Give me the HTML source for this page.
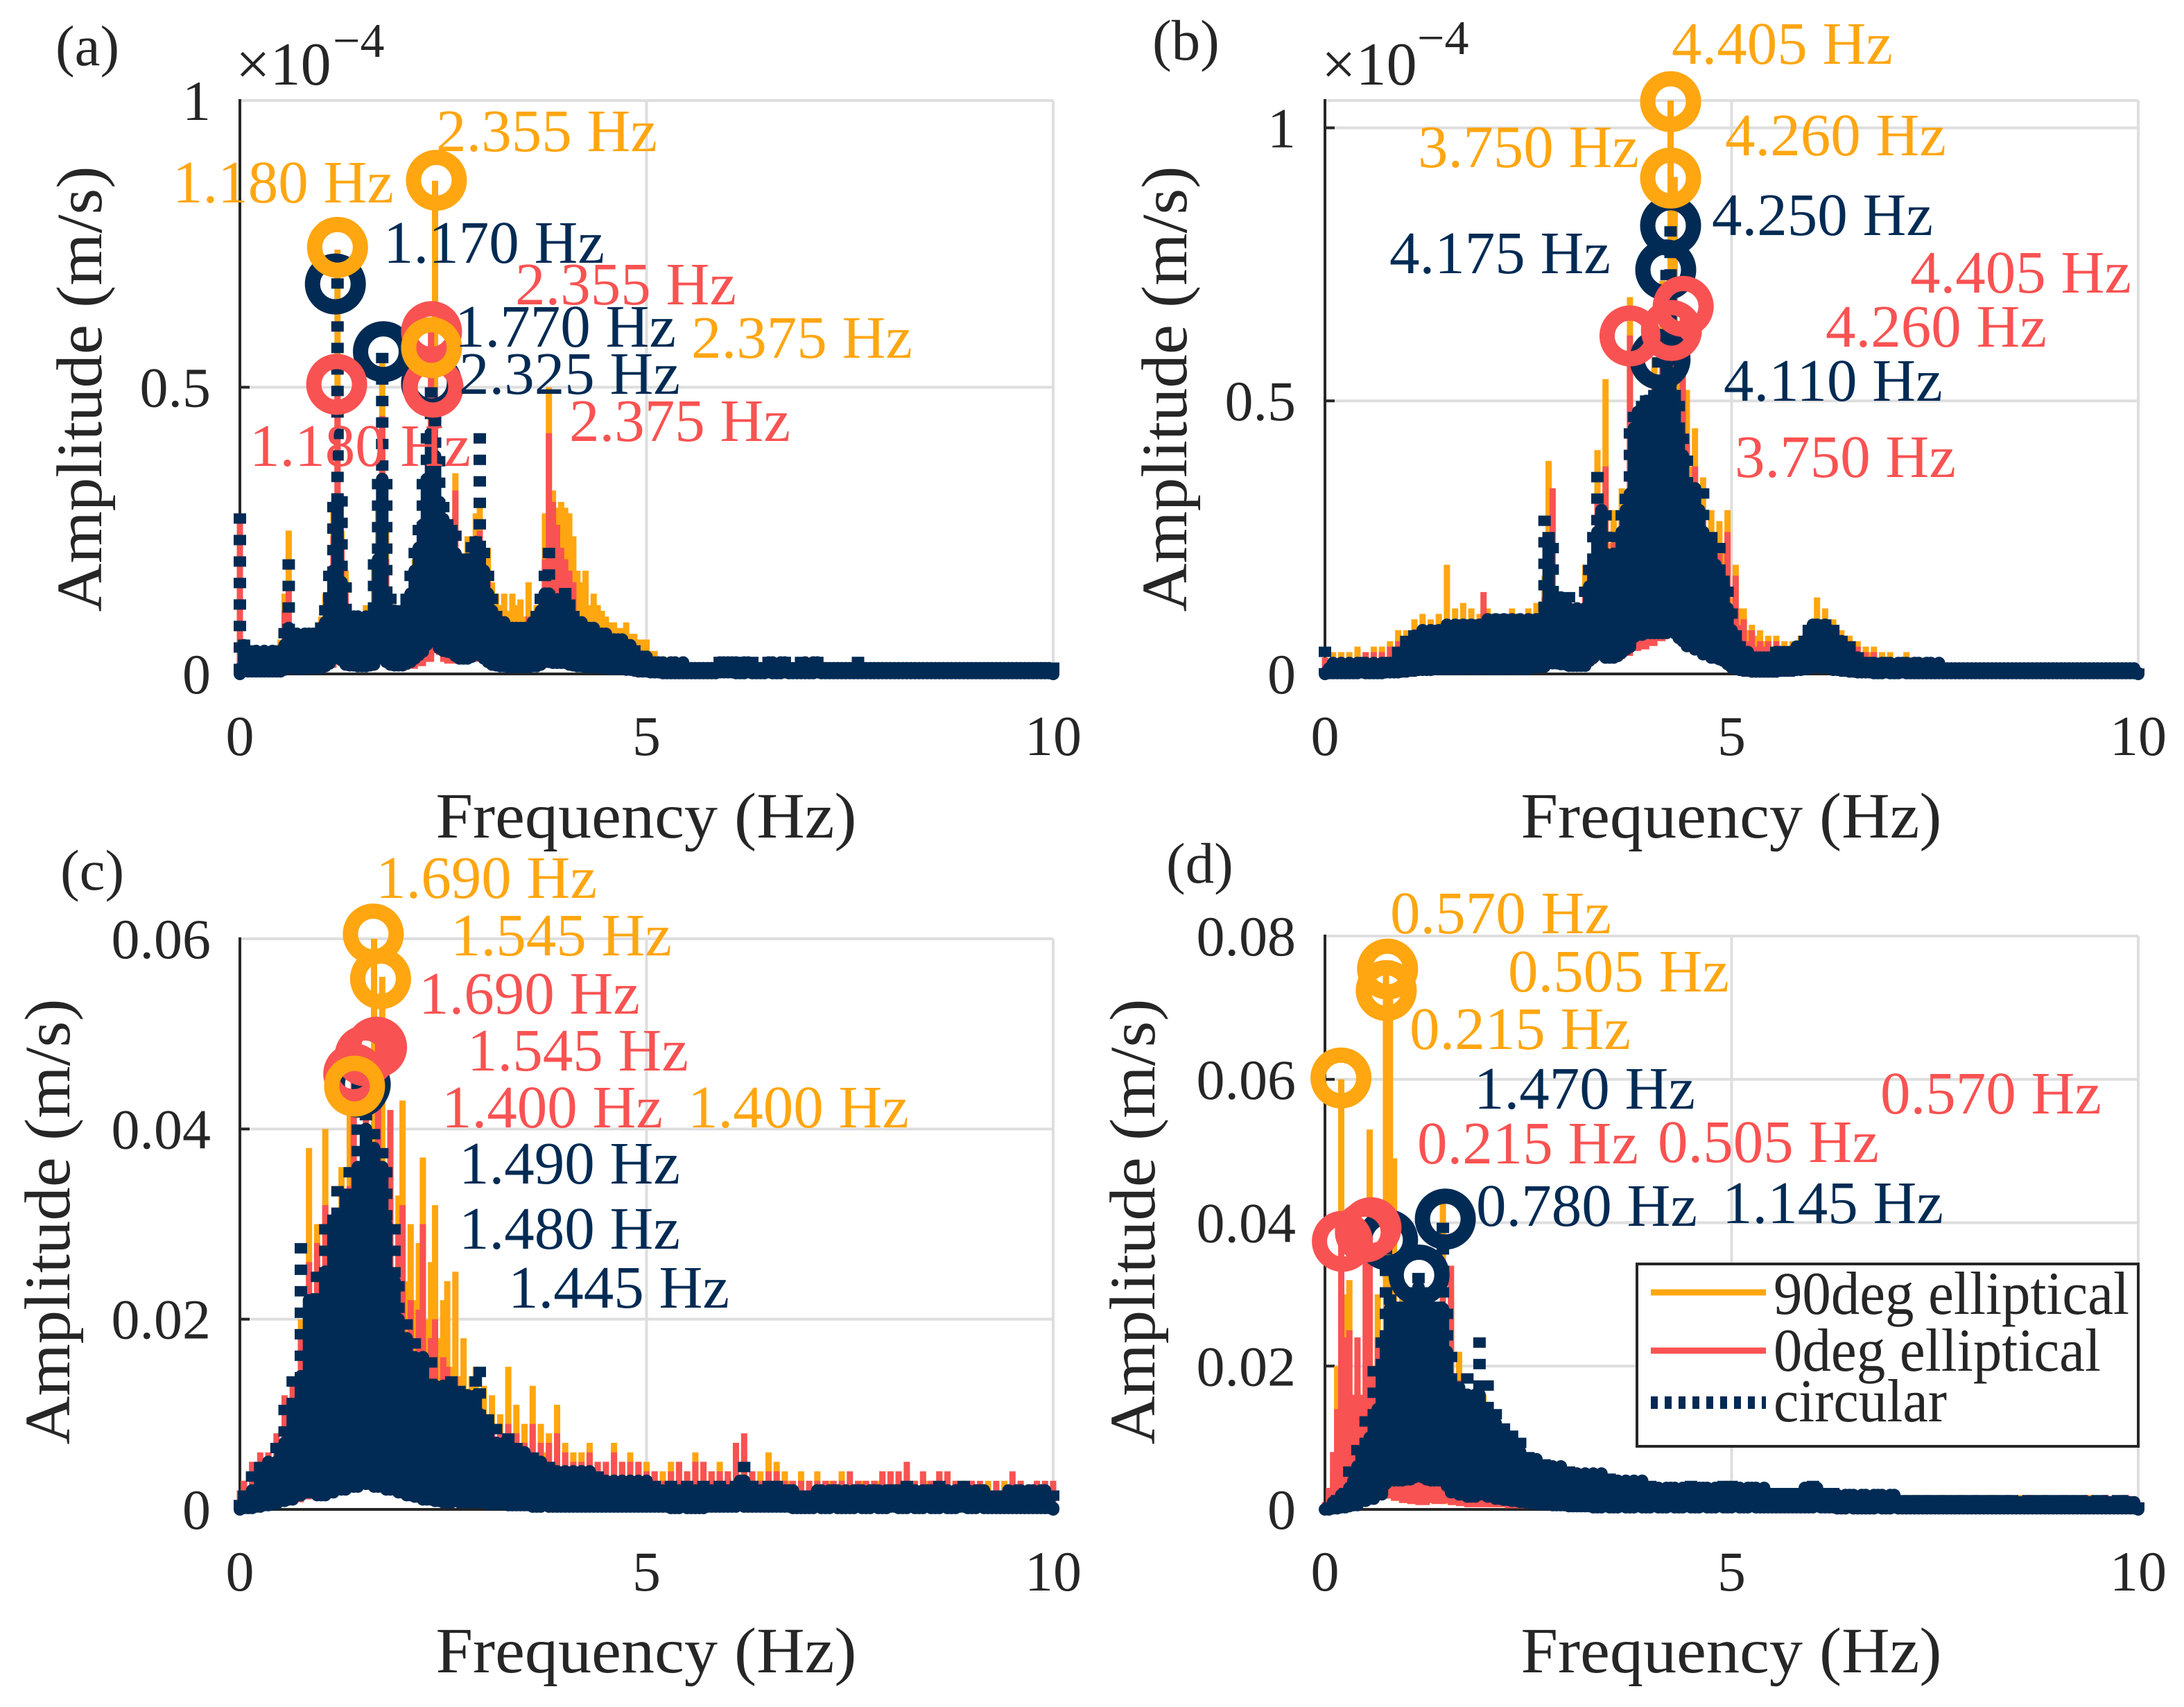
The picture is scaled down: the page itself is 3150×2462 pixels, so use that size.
<!DOCTYPE html>
<html lang="en">
<head>
<meta charset="utf-8">
<title>Frequency amplitude spectra</title>
<style>
html,body{margin:0;padding:0;background:#fff;width:3150px;height:2462px;overflow:hidden}
svg{display:block}
text{font-family:"Liberation Serif",serif}
.o{fill:#FFA611;font-size:87px}
.r{fill:#F95252;font-size:87px}
.n{fill:#012B54;font-size:87px}
.k{fill:#262626}
</style>
</head>
<body>
<svg id="chart" xmlns="http://www.w3.org/2000/svg" width="3150" height="2462" viewBox="0 0 3150 2462">
  <rect x="0" y="0" width="3150" height="2462" fill="#fff"/>
  <g id="marks"></g>

  <g>
    <text class="k" x="80" y="94" font-size="83">(a)</text>
    <text class="k" x="340" y="122" font-size="88">×10</text>
    <text class="k" x="480" y="82" font-size="70">−4</text>
    <text class="k" x="932" y="1208" font-size="93" text-anchor="middle" textLength="607" lengthAdjust="spacingAndGlyphs">Frequency (Hz)</text>
    <text class="k" transform="rotate(-90 146 561)" x="146" y="561" font-size="93" text-anchor="middle" textLength="643" lengthAdjust="spacingAndGlyphs">Amplitude (m/s)</text>
    <text class="o" x="629" y="218">2.355 Hz</text>
    <text class="o" x="249" y="292">1.180 Hz</text>
    <text class="n" x="553" y="379">1.170 Hz</text>
    <text class="r" x="743" y="439">2.355 Hz</text>
    <text class="n" x="656" y="500">1.770 Hz</text>
    <text class="o" x="997" y="516">2.375 Hz</text>
    <text class="n" x="662" y="568">2.325 Hz</text>
    <text class="r" x="821" y="636">2.375 Hz</text>
    <text class="r" x="360" y="672">1.180 Hz</text>
  </g>

  <g>
    <text class="k" x="1662" y="86" font-size="83">(b)</text>
    <text class="k" x="1906" y="122" font-size="88">×10</text>
    <text class="k" x="2044" y="78" font-size="70">−4</text>
    <text class="k" x="2497" y="1208" font-size="93" text-anchor="middle" textLength="607" lengthAdjust="spacingAndGlyphs">Frequency (Hz)</text>
    <text class="k" transform="rotate(-90 1711 561)" x="1711" y="561" font-size="93" text-anchor="middle" textLength="643" lengthAdjust="spacingAndGlyphs">Amplitude (m/s)</text>
    <text class="o" x="2411" y="92">4.405 Hz</text>
    <text class="o" x="2488" y="224">4.260 Hz</text>
    <text class="o" x="2045" y="241">3.750 Hz</text>
    <text class="n" x="2469" y="339">4.250 Hz</text>
    <text class="n" x="2004" y="394">4.175 Hz</text>
    <text class="r" x="2755" y="422">4.405 Hz</text>
    <text class="r" x="2633" y="500">4.260 Hz</text>
    <text class="n" x="2486" y="578">4.110 Hz</text>
    <text class="r" x="2502" y="688">3.750 Hz</text>
  </g>

  <g>
    <text class="k" x="87" y="1283" font-size="83">(c)</text>
    <text class="k" x="932" y="2412" font-size="93" text-anchor="middle" textLength="607" lengthAdjust="spacingAndGlyphs">Frequency (Hz)</text>
    <text class="k" transform="rotate(-90 100 1762)" x="100" y="1762" font-size="93" text-anchor="middle" textLength="643" lengthAdjust="spacingAndGlyphs">Amplitude (m/s)</text>
    <text class="o" x="542" y="1295">1.690 Hz</text>
    <text class="o" x="650" y="1378">1.545 Hz</text>
    <text class="r" x="604" y="1462">1.690 Hz</text>
    <text class="r" x="674" y="1544">1.545 Hz</text>
    <text class="r" x="637" y="1626">1.400 Hz</text>
    <text class="o" x="992" y="1626">1.400 Hz</text>
    <text class="n" x="662" y="1707">1.490 Hz</text>
    <text class="n" x="662" y="1801">1.480 Hz</text>
    <text class="n" x="733" y="1886">1.445 Hz</text>
  </g>

  <g>
    <text class="k" x="1682" y="1273" font-size="83">(d)</text>
    <text class="k" x="2497" y="2412" font-size="93" text-anchor="middle" textLength="607" lengthAdjust="spacingAndGlyphs">Frequency (Hz)</text>
    <text class="k" transform="rotate(-90 1665 1762)" x="1665" y="1762" font-size="93" text-anchor="middle" textLength="643" lengthAdjust="spacingAndGlyphs">Amplitude (m/s)</text>
    <text class="o" x="2005" y="1346">0.570 Hz</text>
    <text class="o" x="2175" y="1430">0.505 Hz</text>
    <text class="o" x="2033" y="1513">0.215 Hz</text>
    <text class="n" x="2126" y="1599">1.470 Hz</text>
    <text class="r" x="2712" y="1606">0.570 Hz</text>
    <text class="r" x="2044" y="1678">0.215 Hz</text>
    <text class="r" x="2391" y="1676">0.505 Hz</text>
    <text class="n" x="2129" y="1768">0.780 Hz</text>
    <text class="n" x="2484" y="1764">1.145 Hz</text>
  </g>

  <g>
    <rect x="2361" y="1823" width="723" height="263" fill="#fff" stroke="#262626" stroke-width="4"/>
    <line x1="2381" y1="1864" x2="2547" y2="1864" stroke="#FFA611" stroke-width="9"/>
    <text class="k" x="2558" y="1895" font-size="88" textLength="513" lengthAdjust="spacingAndGlyphs">90deg elliptical</text>
    <line x1="2381" y1="1948" x2="2547" y2="1948" stroke="#F95252" stroke-width="9"/>
    <text class="k" x="2558" y="1977" font-size="88" textLength="472" lengthAdjust="spacingAndGlyphs">0deg elliptical</text>
    <line x1="2381" y1="2023" x2="2547" y2="2023" stroke="#012B54" stroke-width="18" stroke-dasharray="10 10"/>
    <text class="k" x="2558" y="2050" font-size="88" textLength="250" lengthAdjust="spacingAndGlyphs">circular</text>
  </g>
</svg>

<script>
// Frequency step of all spectra (Hz per sample)
const freqStep = 0.05;

// Tick values and labels
const xTickValues = [0, 5, 10];
const xTickLabels = ['0', '5', '10'];
const yTicksA = [0, 50, 100];
const yLabelsA = ['0', '0.5', '1'];
const yTicksB = [0, 50, 100];
const yLabelsB = ['0', '0.5', '1'];
const yTicksC = [0, 20, 40, 60];
const yLabelsC = ['0', '0.02', '0.04', '0.06'];
const yTicksD = [0, 20, 40, 60, 80];
const yLabelsD = ['0', '0.02', '0.04', '0.06', '0.08'];

// Panel (a) spectra, units 1e-6 m/s
const aOrange = [
5,2,3,1,3,1,3,2,4,2,6,14,25,8,5,3,4,2,4,2,
10,14,8,30,74,25,18,8,6,10,5,12,6,20,30,55,25,14,8,10,
6,14,8,20,12,26,20,57,86,30,24,18,22,35,20,16,24,18,28,30,
20,22,16,14,12,14,11,14,12,13,10,16,11,12,14,28,50,32,29,30,
29,28,24,18,16,18,12,14,12,11,10,9,9,8,8,9,7,7,6,6,
6,4,4,3,3,2,3,1,2,1,2,1,2,1,2,1,2,1,2,1,
2,1,2,1,2,1,2,1,2,1,1,2,1,1,2,1,2,1,1,2,
1,2,1,2,1,1,2,1,2,1,2,1,1,2,1,2,1,1,2,1,
1,2,1,1,2,1,1,2,1,1,2,1,1,1,2,1,1,2,1,1,
1,2,1,1,1,2,1,1,1,2,1,1,1,1,2,1,1,1,1,2,1];
const aRed = [
28,4,3,2,3,1,3,1,3,2,4,11,16,7,4,2,4,2,3,1,
8,10,7,24,50,22,14,6,5,8,4,9,5,12,22,45,20,10,6,9,
5,11,6,16,9,22,14,60,50,24,22,14,12,32,15,12,20,14,22,25,
14,16,8,10,5,9,4,8,4,7,4,10,5,7,9,20,42,30,26,22,
20,18,16,10,10,8,9,6,8,5,6,4,6,3,5,3,4,3,4,3,
4,2,3,1,3,1,2,1,2,1,2,1,1,1,2,1,1,1,2,1,
2,1,1,1,2,1,1,1,2,1,1,2,1,1,2,1,1,1,1,2,
1,1,1,2,1,1,2,1,1,1,2,1,1,1,1,2,1,1,1,1,
1,2,1,1,1,1,2,1,1,1,1,1,2,1,1,1,1,2,1,1,
1,1,2,1,1,1,1,2,1,1,1,1,1,2,1,1,1,1,1,2,1];
const aNavy = [
28,6,5,3,4,3,4,3,4,3,5,8,20,8,7,6,7,7,8,7,
9,12,18,30,69,31,16,11,10,10,9,10,11,20,34,56,34,14,11,10,
12,14,18,22,26,34,42,50,45,38,30,27,26,25,21,18,20,23,24,42,
22,18,14,11,10,9,9,8,8,8,8,9,9,11,14,18,22,14,13,13,
15,13,11,10,9,9,8,8,8,7,7,7,6,6,6,6,5,5,4,3,
3,3,2,2,2,1,2,2,1,2,2,1,1,2,2,1,1,2,3,2,
2,2,3,1,2,2,3,1,1,2,3,2,1,2,3,2,1,1,3,2,
1,2,3,2,1,1,2,2,1,1,1,2,3,1,1,1,2,2,1,1,
1,2,2,1,1,1,2,2,1,1,1,2,2,1,1,1,1,2,2,1,
1,1,1,2,2,1,1,1,2,2,1,1,1,1,2,2,1,1,1,2,2];

// Panel (b) spectra, units 1e-6 m/s
const bOrange = [
3,1,4,2,4,2,4,2,5,2,4,3,5,2,5,3,6,4,8,4,
8,5,10,6,11,6,10,6,11,7,20,8,12,7,13,7,12,6,11,6,
12,6,11,6,10,6,12,7,11,7,12,8,13,9,18,39,14,8,13,9,
14,11,13,11,20,14,22,41,18,54,24,30,22,34,26,69,34,40,34,48,
40,58,44,72,60,105,91,58,48,52,38,45,30,36,26,30,24,28,24,30,
14,20,12,12,8,9,7,8,6,7,5,7,5,6,5,6,6,7,6,7,
9,14,9,12,8,10,7,8,5,7,4,6,4,5,4,5,3,4,3,4,
2,3,2,4,2,3,2,3,2,3,2,3,1,2,1,2,1,2,1,2,
2,1,2,1,2,1,2,1,2,1,2,1,2,1,2,1,2,1,2,1,
2,1,2,1,2,1,2,1,2,1,2,1,1,2,1,2,1,1,2,1,1];
const bRed = [
3,1,3,1,3,2,3,2,3,2,4,2,4,2,4,2,5,3,6,3,
6,4,8,4,9,5,8,5,9,5,10,6,9,6,10,6,10,5,9,15,
9,5,10,5,9,5,10,6,10,6,10,7,11,8,14,20,34,7,11,7,
11,8,11,9,15,12,18,32,16,38,20,24,18,28,22,62,28,34,30,40,
34,48,40,58,48,63,46,50,67,44,34,38,26,30,20,25,18,22,18,26,
12,18,9,10,6,8,5,6,5,6,4,6,4,5,4,5,5,6,5,6,
7,10,6,9,5,8,4,7,3,6,3,5,2,4,2,4,2,3,2,3,
2,3,1,3,2,3,1,2,2,3,1,2,1,2,1,2,1,2,1,2,
2,1,2,1,2,1,1,2,1,2,1,1,2,1,2,1,1,2,1,1,
2,1,1,2,1,1,2,1,1,2,1,1,2,1,1,1,2,1,1,1,1];
const bNavy = [
5,1,2,1,2,1,2,1,2,2,2,1,2,1,2,2,3,2,5,3,
7,4,8,5,8,5,8,6,9,6,9,6,9,6,10,7,9,6,10,7,
10,6,11,6,10,7,11,6,10,6,10,8,11,9,29,26,24,13,14,12,
15,10,12,10,16,20,26,37,30,30,20,22,26,30,33,45,48,48,50,51,
50,52,58,50,74,82,52,50,44,40,34,34,30,34,24,26,20,24,18,16,
12,8,6,5,4,4,3,3,3,4,3,5,4,4,4,5,5,6,7,9,
9,10,8,10,8,9,5,7,4,6,3,4,2,3,2,2,1,3,3,2,
1,2,2,3,1,2,2,1,2,2,1,2,2,1,1,2,2,1,1,2,
2,1,1,2,2,1,1,2,2,1,1,1,2,2,1,1,2,2,1,1,
2,2,1,1,2,2,1,1,2,2,1,1,1,2,2,1,1,2,2,1,1];

// Panel (c) spectra, units 1e-3 m/s
const cOrange = [
1,3,2,4,2,5,1,5,2,6,3,10,5,14,6,20,8,38,12,30,
14,40,16,28,18,36,16,44,18,30,20,36,22,60,24,56,22,34,20,33,
43,24,30,22,28,37,20,26,32,18,22,24,15,25,14,18,10,14,15,10,
13,8,12,7,10,8,15,7,11,7,9,6,13,5,9,6,8,5,11,4,
7,4,6,4,6,3,7,3,5,3,5,3,7,3,5,3,6,3,5,3,
5,3,4,3,4,3,5,2,5,3,4,3,6,2,5,3,4,3,5,3,
4,3,5,3,6,2,4,3,4,3,6,3,5,3,4,3,3,2,4,2,
3,2,4,2,3,3,3,2,4,2,3,2,3,3,3,2,3,3,4,2,
4,2,3,3,4,2,3,2,3,3,3,2,4,2,3,2,3,2,3,2,
3,2,2,2,3,2,2,2,3,2,2,2,3,2,2,2,3,2,2,2,2];
const cRed = [
2,3,1,5,2,6,1,6,2,8,3,12,4,14,5,18,7,26,10,28,
12,32,14,24,18,30,16,34,46,22,18,48,20,30,49,34,20,42,18,30,
32,16,22,14,21,30,12,18,20,10,16,15,8,14,8,12,7,11,9,6,
9,5,9,5,8,5,9,4,8,4,7,4,9,3,7,4,7,3,8,3,
6,3,5,3,5,3,6,3,5,3,5,3,6,2,5,3,5,2,5,2,
4,2,4,3,3,2,4,2,5,3,4,3,5,2,5,3,4,3,4,3,
4,3,7,3,8,2,4,3,3,2,4,3,4,2,3,2,3,2,3,2,
3,2,3,2,3,2,3,2,3,2,4,2,3,2,3,2,3,2,4,2,
4,2,4,2,5,2,3,2,4,2,3,2,4,2,4,2,3,2,3,2,
3,2,3,2,2,1,3,2,2,1,4,2,3,1,2,2,3,2,3,2,3];
const cNavy = [
1,2,1,4,2,5,3,5,4,7,6,11,7,14,10,28,12,22,14,25,
10,30,12,31,34,14,33,36,16,45,20,42,18,40,16,38,36,14,30,24,
12,20,10,18,9,16,7,16,13,6,13,5,14,6,13,5,12,5,14,15,
5,10,4,9,4,7,8,3,7,3,6,3,6,2,5,3,5,2,4,2,
4,2,4,2,4,2,4,2,4,2,3,2,3,2,3,2,3,2,3,2,
3,2,3,2,2,2,3,1,2,2,3,1,2,1,3,2,2,2,3,2,
2,2,3,3,5,2,3,2,2,2,3,2,3,2,2,2,2,1,2,1,
1,2,2,2,1,2,2,2,1,2,1,2,2,2,1,2,2,2,1,2,
2,2,2,1,3,2,2,1,2,2,2,1,3,2,2,1,2,2,3,2,
1,2,2,2,1,2,1,1,2,2,1,2,2,1,2,2,1,2,2,1,2];

// Panel (d) spectra, units 1e-3 m/s
const dOrange = [
0,2,5,20,60,30,32,8,18,6,20,53,10,30,12,75,72,49,8,30,
6,24,5,26,5,22,6,28,6,43,5,30,4,22,4,14,3,12,3,16,
3,12,2,11,3,8,2,7,2,6,2,5,2,5,2,5,1,5,1,5,
1,4,1,4,1,4,1,3,1,3,1,4,1,3,1,3,1,3,1,3,
1,3,1,3,1,3,1,3,1,3,1,3,1,3,1,3,1,3,1,4,
1,3,1,3,1,2,1,2,1,2,1,3,1,2,1,2,1,2,1,2,
1,2,1,2,1,2,1,2,1,2,0,2,1,2,1,2,1,2,1,2,
1,2,1,2,1,1,2,1,1,2,1,2,1,1,2,1,1,2,1,1,
2,1,1,2,1,2,1,1,2,1,1,2,1,1,2,1,1,2,1,1,
1,2,1,1,2,1,1,1,2,1,1,1,2,1,1,1,2,1,1,1,1];
const dRed = [
1,3,8,14,37,24,25,16,24,16,38,39,20,24,14,22,10,18,8,16,
6,20,5,18,4,18,6,20,5,30,6,34,4,18,3,10,2,8,2,9,
2,7,2,6,2,5,1,4,1,4,1,4,1,3,1,3,1,3,1,3,
1,3,1,3,1,2,1,3,1,2,1,3,1,2,1,2,1,2,1,2,
1,2,1,2,1,2,1,2,1,2,1,2,1,2,1,2,1,2,1,2,
1,2,1,2,1,2,1,2,1,2,1,2,1,2,1,2,1,2,1,2,
1,2,1,2,1,1,2,1,1,2,1,1,2,1,1,2,1,1,2,1,
1,2,1,1,1,2,1,1,2,1,1,1,2,1,1,1,2,1,1,1,
2,1,1,1,2,1,1,1,2,1,1,1,1,2,1,1,1,2,1,1,
1,1,2,1,1,1,1,2,1,1,1,1,2,1,1,1,1,2,1,1,1];
const dNavy = [
0,1,1,2,2,3,6,4,9,8,13,10,20,14,24,37,30,28,27,29,
28,30,31,33,31,30,28,27,29,40,28,22,16,17,14,19,12,16,24,14,
18,12,14,10,12,9,11,8,10,7,8,6,7,5,7,5,6,4,6,4,
6,3,5,3,5,3,5,2,5,3,5,2,4,3,4,2,4,3,4,2,
4,3,3,2,3,3,3,2,3,3,4,2,3,3,3,2,3,3,4,2,
4,3,3,2,3,3,3,2,3,2,3,2,2,3,3,2,2,3,3,2,
4,3,3,2,2,3,2,1,2,2,2,1,2,2,1,2,2,2,1,2,
2,2,1,1,2,2,1,1,2,2,1,1,2,2,1,1,2,2,1,1,
2,2,1,1,2,2,1,1,2,2,1,1,1,2,2,1,1,2,2,1,
1,2,2,1,1,2,2,1,1,1,2,2,1,1,1,2,2,1,1,1,1];

// Highlighted peaks (ring centres): frequency in Hz, amplitude in panel units
const aOrangePeakF = [1.20, 2.416, 2.356];
const aOrangePeakA = [74.4, 86.1, 56.9];
const aRedPeakF = [1.19, 2.356, 2.374];
const aRedPeakA = [50.5, 59.7, 50];
const aNavyPeakF = [1.174, 1.765, 2.356];
const aNavyPeakA = [68, 56.2, 50.7];

const bOrangePeakF = [4.25, 4.25];
const bOrangePeakA = [104.8, 90.8];
const bRedPeakF = [3.75, 4.26, 4.405];
const bRedPeakA = [61.9, 62.9, 67.3];
const bNavyPeakF = [4.25, 4.19, 4.12];
const bNavyPeakA = [82.1, 74, 57.6];

const cOrangePeakF = [1.64, 1.73, 1.41];
const cOrangePeakA = [60.5, 55.8, 44.5];
const cRedPeakF = [1.68, 1.54, 1.40];
const cRedPeakA = [48.6, 47.7, 45.8];
const cNavyPeakF = [1.46, 1.43, 1.48];
const cNavyPeakA = [44.4, 44.7, 44.7];

const dOrangePeakF = [0.77, 0.754, 0.197];
const dOrangePeakA = [75.4, 72.4, 60.2];
const dRedPeakF = [0.214, 0.566, 0.497];
const dRedPeakA = [37.4, 39.3, 38.7];
const dNavyPeakF = [1.48, 0.77, 1.157];
const dNavyPeakA = [40.5, 37.6, 32.7];

const SVGNS = 'http://www.w3.org/2000/svg';
const COLOR_ORANGE = '#FFA611';
const COLOR_RED = '#F95252';
const COLOR_NAVY = '#012B54';
const marks = document.getElementById('marks');

function xAxis(panel, f) {
  return panel.left + (panel.right - panel.left) * f / 10;
}
function yAxis(panel, v) {
  return panel.bottom - (panel.bottom - panel.top) * v / panel.yMax;
}
function node(tag, attrs, parent) {
  const el = document.createElementNS(SVGNS, tag);
  for (const k in attrs) el.setAttribute(k, attrs[k]);
  parent.appendChild(el);
  return el;
}

function drawAxes(panel) {
  const g = node('g', {}, marks);
  
  
  xTickValues.forEach(function (t, i) {
    if (t === 0) return;
    const grid = node('line', {x1: xAxis(panel, t), x2: xAxis(panel, t), y1: panel.top, y2: panel.bottom, stroke: '#DEDEDE', 'stroke-width': 4}, g);
    
    
  });
  panel.yTicks.forEach(function (t, i) {
    const gy = t === 0 ? null : node('line', {x1: panel.left, x2: panel.right, y1: yAxis(panel, t), y2: yAxis(panel, t), stroke: '#DEDEDE', 'stroke-width': 4}, g);
    if (gy) {
      
      
    }
    const tick = node('line', {x1: panel.left, x2: panel.left + 14, y1: yAxis(panel, t), y2: yAxis(panel, t), stroke: '#262626', 'stroke-width': 4}, g);
    
    
    const label = node('text', {x: panel.left - 42, y: yAxis(panel, t) + 28, 'text-anchor': 'end', 'font-size': 82, fill: '#262626'}, g);
    label.textContent = panel.yLabels[i];
    
    
  });
  const top = node('line', {x1: panel.left, x2: panel.right, y1: panel.top, y2: panel.top, stroke: '#DEDEDE', 'stroke-width': 4}, g);
  
  
  const yLine = node('line', {x1: panel.left, x2: panel.left, y1: panel.top - 2, y2: panel.bottom + 2, stroke: '#262626', 'stroke-width': 4}, g);
  
  
  const xLine = node('line', {x1: panel.left, x2: panel.right, y1: panel.bottom, y2: panel.bottom, stroke: '#262626', 'stroke-width': 4}, g);
  
  
  xTickValues.forEach(function (t, i) {
    const label = node('text', {x: xAxis(panel, t), y: panel.bottom + 117, 'text-anchor': 'middle', 'font-size': 82, fill: '#262626'}, g);
    label.textContent = xTickLabels[i];
    
    
  });
}

// Lower end of a sample's stem: a fraction of the local minimum, as the raw spectrum dips well below the sampled troughs
function floorOf(values, i) {
  const prev = i > 0 ? values[i - 1] : values[i];
  const next = i < values.length - 1 ? values[i + 1] : values[i];
  return Math.min(values[i], prev, next) * 0.15;
}
// Height up to which a sample is backed by taller neighbours on both sides
function coreOf(values, i) {
  const left = Math.max(values[i - 1] || 0, values[i - 2] || 0);
  const right = Math.max(values[i + 1] || 0, values[i + 2] || 0);
  return Math.min(values[i], left, right);
}
function stem(panel, i, from, to) {
  const x = xAxis(panel, i * freqStep).toFixed(1);
  return 'M' + x + ' ' + yAxis(panel, from).toFixed(1) + 'L' + x + ' ' + yAxis(panel, to).toFixed(1);
}

function drawSolidSeries(panel, values, color, name) {
  let d = '';
  values.forEach(function (v, i) {
    d += stem(panel, i, v, floorOf(values, i));
  });
  const path = node('path', {d: d, fill: 'none', stroke: color, 'stroke-width': 9}, marks);
  
  
}

function drawDashedSeries(panel, values, color, name) {
  let core = '';
  let spikes = '';
  values.forEach(function (v, i) {
    const c = coreOf(values, i);
    core += stem(panel, i, c, floorOf(values, i));
    if (v > c) spikes += stem(panel, i, v, c);
  });
  const body = node('path', {d: core, fill: 'none', stroke: color, 'stroke-width': 18, 'stroke-linecap': 'round'}, marks);
  
  
  const tips = node('path', {d: spikes, fill: 'none', stroke: color, 'stroke-width': 18, 'stroke-dasharray': '15 16'}, marks);
  
  
}

function drawRings(panel, freqs, amps, color, name) {
  freqs.forEach(function (f, i) {
    const ring = node('circle', {cx: xAxis(panel, f).toFixed(1), cy: yAxis(panel, amps[i]).toFixed(1), r: 33, fill: 'none', stroke: color, 'stroke-width': 22}, marks);
    
    
  });
}

function drawPanel(panel) {
  drawAxes(panel);
  drawSolidSeries(panel, panel.orange, COLOR_ORANGE, 'series-90deg-elliptical-' + panel.id);
  drawSolidSeries(panel, panel.red, COLOR_RED, 'series-0deg-elliptical-' + panel.id);
  drawDashedSeries(panel, panel.navy, COLOR_NAVY, 'series-circular-' + panel.id);
  drawRings(panel, panel.navyPeakF, panel.navyPeakA, COLOR_NAVY, 'peak-ring-circular-' + panel.id);
  drawRings(panel, panel.redPeakF, panel.redPeakA, COLOR_RED, 'peak-ring-0deg-' + panel.id);
  drawRings(panel, panel.orangePeakF, panel.orangePeakA, COLOR_ORANGE, 'peak-ring-90deg-' + panel.id);
}

drawPanel({id: 'a', left: 346, right: 1519, top: 145, bottom: 972, yMax: 100, yTicks: yTicksA, yLabels: yLabelsA,
  orange: aOrange, red: aRed, navy: aNavy,
  orangePeakF: aOrangePeakF, orangePeakA: aOrangePeakA, redPeakF: aRedPeakF, redPeakA: aRedPeakA, navyPeakF: aNavyPeakF, navyPeakA: aNavyPeakA});
drawPanel({id: 'b', left: 1911, right: 3084, top: 145, bottom: 972, yMax: 105, yTicks: yTicksB, yLabels: yLabelsB,
  orange: bOrange, red: bRed, navy: bNavy,
  orangePeakF: bOrangePeakF, orangePeakA: bOrangePeakA, redPeakF: bRedPeakF, redPeakA: bRedPeakA, navyPeakF: bNavyPeakF, navyPeakA: bNavyPeakA});
drawPanel({id: 'c', left: 346, right: 1519, top: 1354, bottom: 2177, yMax: 60, yTicks: yTicksC, yLabels: yLabelsC,
  orange: cOrange, red: cRed, navy: cNavy,
  orangePeakF: cOrangePeakF, orangePeakA: cOrangePeakA, redPeakF: cRedPeakF, redPeakA: cRedPeakA, navyPeakF: cNavyPeakF, navyPeakA: cNavyPeakA});
drawPanel({id: 'd', left: 1911, right: 3084, top: 1350, bottom: 2177, yMax: 80, yTicks: yTicksD, yLabels: yLabelsD,
  orange: dOrange, red: dRed, navy: dNavy,
  orangePeakF: dOrangePeakF, orangePeakA: dOrangePeakA, redPeakF: dRedPeakF, redPeakA: dRedPeakA, navyPeakF: dNavyPeakF, navyPeakA: dNavyPeakA});
</script>
</body>
</html>
